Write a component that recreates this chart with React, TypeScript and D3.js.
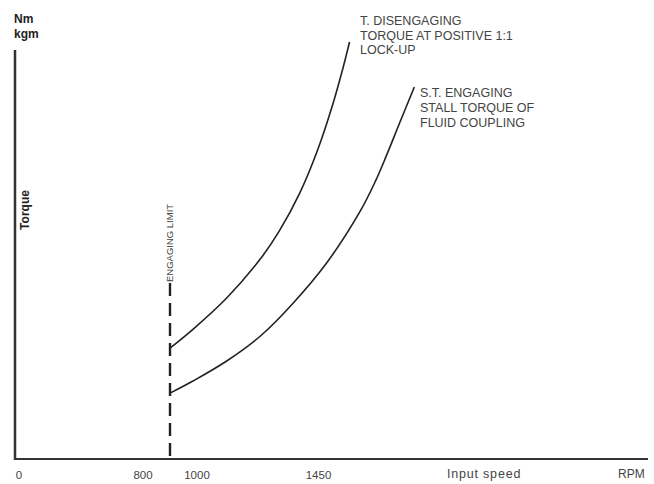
import React from 'react';
import * as d3 from 'd3';

// torque curves (rpm, torque in % of full scale)
const lockupRpm = [900, 985, 1110, 1235, 1305, 1380, 1445, 1505, 1540, 1565];
const lockupTorque = [26.6, 31.1, 38.6, 48.0, 54.7, 63.7, 73.8, 85.5, 93.6, 100];
const stallRpm = [900, 985, 1110, 1235, 1355, 1480, 1605, 1660, 1700, 1750, 1805];
const stallTorque = [15.8, 18.7, 23.5, 29.5, 37.3, 47.0, 59.5, 66.5, 72.5, 80.5, 89.2];

const xTicks = [0, 800, 1000, 1450];
const engagingLimit = 900;
const lockupLabel = ['T. DISENGAGING', 'TORQUE AT POSITIVE 1:1', 'LOCK-UP'];
const stallLabel = ['S.T. ENGAGING', 'STALL TORQUE OF', 'FLUID COUPLING'];

const W = 654;
const H = 484;
const font = '"Liberation Sans", Arial, sans-serif';
const ink = '#222';

export default function App() {
  // broken axis: 0 sits at the origin, the rest is linear from 800 up
  const x = d3.scaleLinear().domain([0, 800, 2400]).range([19, 143, 575]);
  const y = d3.scaleLinear().domain([0, 100]).range([459, 42]);

  const line = d3
    .line<[number, number]>()
    .x((d) => x(d[0]))
    .y((d) => y(d[1]))
    .curve(d3.curveCatmullRom.alpha(0.5));

  const lockup = lockupRpm.map((r, i) => [r, lockupTorque[i]] as [number, number]);
  const stall = stallRpm.map((r, i) => [r, stallTorque[i]] as [number, number]);

  const x0 = 15;
  const y0 = y(0);
  const xl = x(engagingLimit);

  return (
    <svg width={W} height={H} style={{ position: 'absolute', left: 0, top: 0, background: '#fff' }}>
      {/* axes */}
      <line x1={x0} y1={50} x2={x0} y2={y0 + 1} stroke="#333" strokeWidth={2.5} />
      <line x1={x0} y1={y0} x2={648} y2={y0} stroke="#333" strokeWidth={2.2} />

      <text x={14} y={23} fontFamily={font} fontWeight="bold" fontSize={12} fill={ink}>Nm</text>
      <text x={14} y={38} fontFamily={font} fontWeight="bold" fontSize={12} fill={ink}>kgm</text>
      <text
        transform={`translate(29,210) rotate(-90)`}
        textAnchor="middle"
        fontFamily={font}
        fontWeight="bold"
        fontSize={12}
        fill={ink}
      >
        Torque
      </text>

      {/* engaging limit */}
      <line x1={xl} y1={283} x2={xl} y2={y0} stroke={ink} strokeWidth={2.4} strokeDasharray="13,7" />
      <text
        transform={`translate(${xl},282) rotate(-90)`}
        dominantBaseline="middle"
        fontFamily={font}
        fontSize={9.5}
        fill="#444"
      >
        ENGAGING LIMIT
      </text>

      {/* curves */}
      <path d={line(lockup) ?? ''} fill="none" stroke={ink} strokeWidth={1.6} />
      <path d={line(stall) ?? ''} fill="none" stroke={ink} strokeWidth={1.6} />

      {lockupLabel.map((t, i) => (
        <text key={t} x={360} y={25 + i * 14.5} fontFamily={font} fontSize={12.5} fill="#444">{t}</text>
      ))}
      {stallLabel.map((t, i) => (
        <text key={t} x={420} y={97 + i * 15} fontFamily={font} fontSize={12.5} fill="#444">{t}</text>
      ))}

      {/* x ticks */}
      {xTicks.map((t) => (
        <text key={t} x={x(t)} y={479} textAnchor="middle" fontFamily={font} fontSize={11.5} fill="#444">
          {t}
        </text>
      ))}
      <text x={447} y={478} fontFamily={font} fontSize={12.5} letterSpacing={0.8} fill="#444">Input  speed</text>
      <text x={618} y={478} fontFamily={font} fontSize={12} fill="#444">RPM</text>
    </svg>
  );
}
